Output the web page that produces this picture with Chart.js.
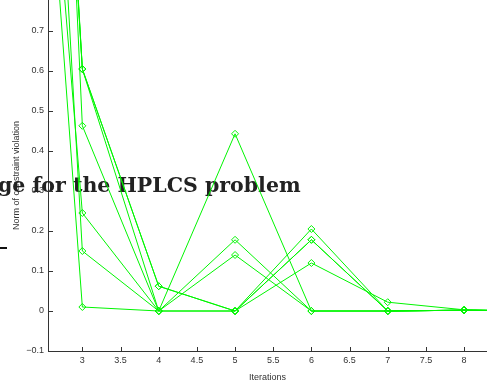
<!DOCTYPE html>
<html>
<head>
<meta charset="utf-8">
<script src="https://cdn.jsdelivr.net/npm/chart.js@4/dist/chart.umd.min.js"></script>
<style>
  html, body { margin: 0; padding: 0; background: #fff; overflow: hidden; }
  canvas { display: block; }
</style>
</head>
<body>
<canvas id="convChart" width="487" height="385"></canvas>
<script>
// iteration numbers and constraint violation per run
const iterations = [2, 3, 4, 5, 6, 7, 8, 9];
const run1 = [3.9, 0.605, 0.062, 0, 0.205, 0, 0.002, 0];
const run2 = [3.8, 0.605, 0.062, 0, 0.178, 0, 0.002, 0];
const run3 = [3.7, 0.605, 0, 0, 0.12, 0.022, 0.003, 0];
const run4 = [4.6, 0.463, 0, 0.443, 0, 0, 0.002, 0];
const run5 = [2.56, 0.245, 0, 0.178, 0, 0, 0.002, 0];
const run6 = [3.5, 0.15, 0, 0.14, 0, 0, 0.002, 0];
const run7 = [2.6, 0.01, 0, 0, 0.178, 0, 0.002, 0];

const xTicks = [3, 3.5, 4, 4.5, 5, 5.5, 6, 6.5, 7, 7.5, 8];
const yTicks = [-0.1, 0, 0.1, 0.2, 0.3, 0.4, 0.5, 0.6, 0.7];

// only the end of the old figure title is visible
const titleText = "ge for the HPLCS problem";

const runs = [run1, run2, run3, run4, run5, run6, run7];
const green = "rgb(0, 245, 0)";
const lastIdx = iterations.length - 1;

const datasets = runs.map((r, i) => ({
  label: "run " + (i + 1),
  data: r.map((v, j) => ({ x: iterations[j], y: v })),
  borderColor: green,
  borderWidth: 1,
  backgroundColor: "rgba(0,0,0,0)",
  pointStyle: "rectRot",
  // first/last points sit outside the visible axes anyway
  pointRadius: c => (c.dataIndex === 0 || c.dataIndex === lastIdx ? 0 : 3.5),
  pointBorderWidth: 1,
  pointBorderColor: green,
  pointBackgroundColor: "rgba(0,0,0,0)",
  fill: false,
  tension: 0
}));

const titlePlugin = {
  id: "oldTitle",
  beforeDatasetsDraw(chart) {
    const c = chart.ctx;
    c.save();
    c.font = "bold 20.5px 'DejaVu Serif'";
    c.fillStyle = "#222";
    c.textAlign = "left";
    c.textBaseline = "alphabetic";
    c.fillText(titleText, -2, 192);
    c.fillStyle = "#111";
    c.fillRect(0, 247, 7, 2);
    c.restore();
  }
};

// matlab style ticks pointing inward
const innerTicks = {
  id: "innerTicks",
  afterDraw(chart) {
    const c = chart.ctx;
    const xs = chart.scales.x, ys = chart.scales.y;
    const area = chart.chartArea;
    c.save();
    c.strokeStyle = "#333";
    c.lineWidth = 1;
    c.beginPath();
    xTicks.forEach(v => {
      const px = Math.round(xs.getPixelForValue(v)) + 0.5;
      c.moveTo(px, area.bottom);
      c.lineTo(px, area.bottom - 4);
    });
    yTicks.forEach(v => {
      const py = Math.round(ys.getPixelForValue(v)) + 0.5;
      c.moveTo(area.left, py);
      c.lineTo(area.left + 5, py);
    });
    c.stroke();
    c.restore();
  }
};

const ctx = document.getElementById("convChart").getContext("2d");

const convChart = new Chart(ctx, {
  type: "line",
  data: { datasets: datasets },
  plugins: [titlePlugin, innerTicks],
  options: {
    responsive: false,
    animation: false,
    devicePixelRatio: 1,
    layout: { padding: 0 },
    plugins: {
      legend: { display: false },
      tooltip: { enabled: false }
    },
    scales: {
      x: {
        type: "linear",
        min: 2.55,
        max: 8.3,
        afterBuildTicks: s => { s.ticks = xTicks.map(v => ({ value: v })); },
        afterFit: s => { s.height = 34; s.paddingLeft = 0; s.paddingRight = 0; },
        grid: { drawOnChartArea: false, drawTicks: false },
        border: { display: true, color: "#333", width: 1 },
        ticks: {
          padding: 4,
          maxRotation: 0,
          color: "#333",
          font: { family: "'Liberation Sans'", size: 9 },
          callback: v => String(v)
        },
        title: {
          display: true,
          text: "Iterations",
          color: "#333",
          font: { family: "'Liberation Sans'", size: 9 },
          padding: { top: 0, bottom: 2 }
        }
      },
      y: {
        type: "linear",
        min: -0.1,
        max: 0.7775,
        afterBuildTicks: s => { s.ticks = yTicks.map(v => ({ value: v })); },
        afterFit: s => { s.width = 48; s.paddingTop = 0; s.paddingBottom = 0; },
        grid: { drawOnChartArea: false, drawTicks: false },
        border: { display: true, color: "#333", width: 1 },
        ticks: {
          padding: 4,
          color: "#333",
          font: { family: "'Liberation Sans'", size: 9 },
          callback: v => (v < 0 ? "\u2212" + Math.abs(v) : String(v))
        },
        title: {
          display: true,
          text: "Norm of constraint violation",
          color: "#333",
          font: { family: "'Liberation Sans'", size: 9 },
          padding: { top: 11, bottom: 0 }
        }
      }
    }
  }
});
</script>
</body>
</html>
